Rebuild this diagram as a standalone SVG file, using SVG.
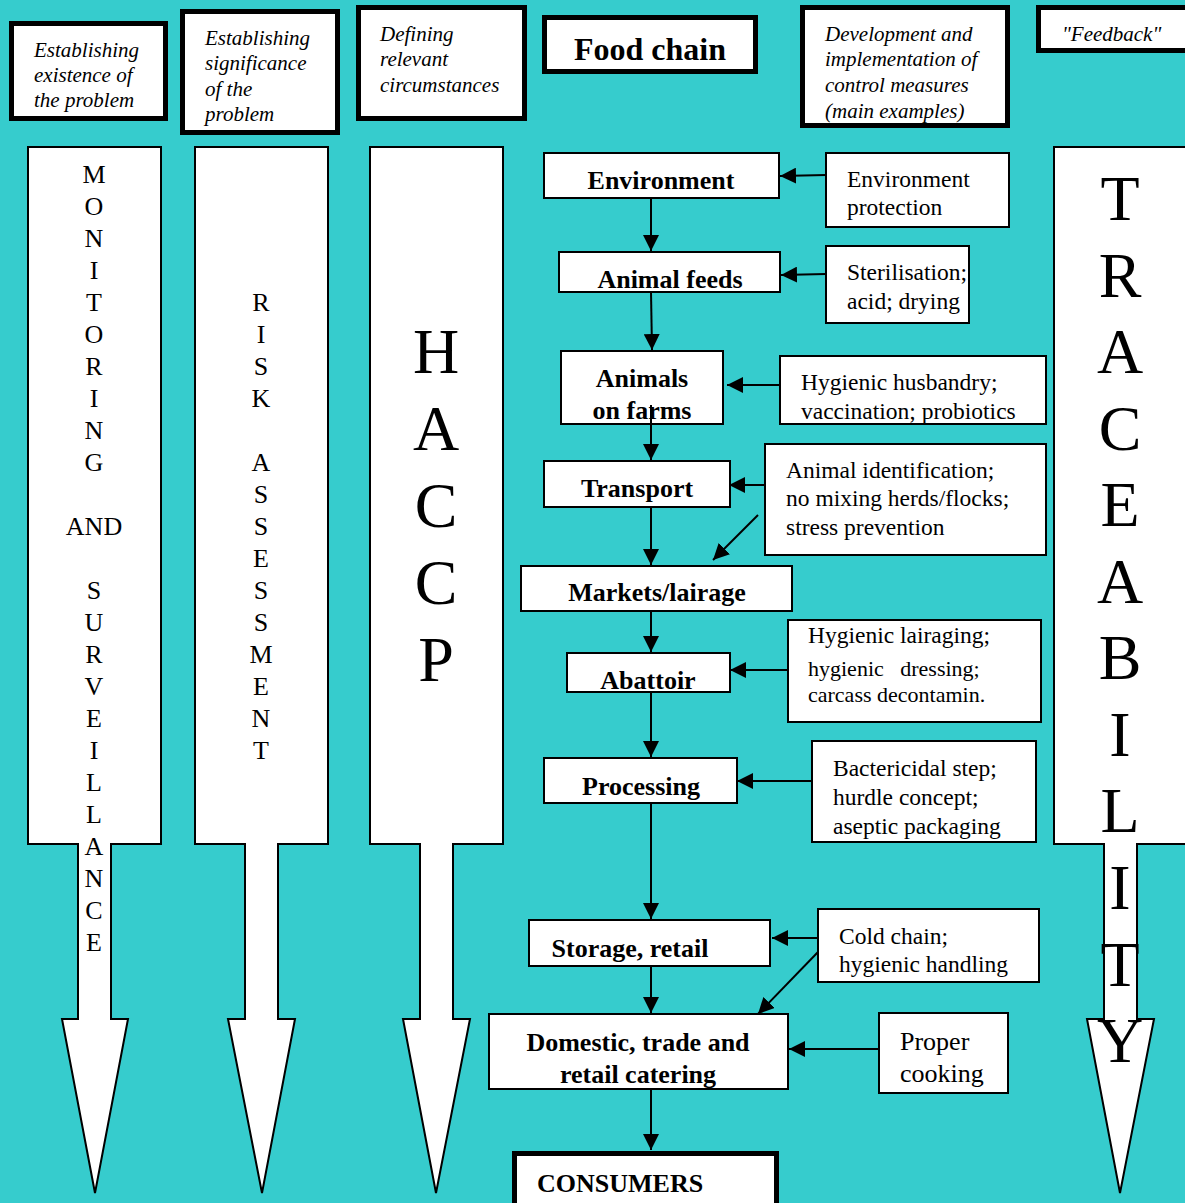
<svg xmlns="http://www.w3.org/2000/svg" width="1185" height="1203" viewBox="0 0 1185 1203">
<defs>
<marker id="ah" markerUnits="userSpaceOnUse" markerWidth="18" markerHeight="16" refX="16" refY="8" orient="auto">
<path d="M0,0 L16,8 L0,16 z" fill="#000"/>
</marker>
<style>
.hdr{fill:#fff;stroke:#000;stroke-width:5}
.box{fill:#fff;stroke:#000;stroke-width:2}
.big{fill:#fff;stroke:#000;stroke-width:2}
.it{font-family:"Liberation Serif",serif;font-style:italic;font-size:21px;fill:#000}
.nd{font-family:"Liberation Serif",serif;font-weight:bold;font-size:26px;fill:#000;text-anchor:middle}
.ct{font-family:"Liberation Serif",serif;font-size:23.5px;fill:#000}
.cs{font-family:"Liberation Serif",serif;font-size:22px;fill:#000}
.ck{font-family:"Liberation Serif",serif;font-size:26px;fill:#000}
.vt{font-family:"Liberation Serif",serif;font-size:26px;fill:#000;text-anchor:middle}
.vb{font-family:"Liberation Serif",serif;font-size:64px;fill:#000;text-anchor:middle}
.cn line{stroke:#000;stroke-width:2;marker-end:url(#ah)}
</style>
</defs>
<rect width="1185" height="1203" fill="#36CCCD"/>

<g id="hdr-existence">
<rect class="hdr" x="11.5" y="23.5" width="154" height="95"/>
<text class="it" x="34" y="57">Establishing</text>
<text class="it" x="34" y="82">existence of</text>
<text class="it" x="34" y="107">the problem</text>
</g>
<g id="hdr-significance">
<rect class="hdr" x="182.5" y="11.5" width="155" height="121"/>
<text class="it" x="205" y="45">Establishing</text>
<text class="it" x="205" y="70">significance</text>
<text class="it" x="205" y="96">of the</text>
<text class="it" x="205" y="121">problem</text>
</g>
<g id="hdr-circumstances">
<rect class="hdr" x="358.5" y="7.5" width="166" height="111"/>
<text class="it" x="380" y="41">Defining</text>
<text class="it" x="380" y="66">relevant</text>
<text class="it" x="380" y="92">circumstances</text>
</g>
<g id="hdr-foodchain">
<rect class="hdr" x="544.5" y="17.5" width="211" height="54"/>
<text x="650" y="60" font-family="'Liberation Serif',serif" font-weight="bold" font-size="32" text-anchor="middle">Food chain</text>
</g>
<g id="hdr-control">
<rect class="hdr" x="802.5" y="7.5" width="205" height="118"/>
<text class="it" x="825" y="41">Development and</text>
<text class="it" x="825" y="66">implementation of</text>
<text class="it" x="825" y="92">control measures</text>
<text class="it" x="825" y="118">(main examples)</text>
</g>
<g id="hdr-feedback">
<rect class="hdr" x="1038.5" y="7.5" width="160" height="43"/>
<text class="it" x="1062" y="41">"Feedback"</text>
</g>

<g id="arrow-monitoring">
<polygon class="big" points="28,147 161,147 161,844 111,844 111,1019 128,1019 95,1193 62,1019 78,1019 78,844 28,844"/>
<text class="vt"><tspan x="94" y="183">M</tspan><tspan x="94" y="215">O</tspan><tspan x="94" y="247">N</tspan><tspan x="94" y="279">I</tspan><tspan x="94" y="311">T</tspan><tspan x="94" y="343">O</tspan><tspan x="94" y="375">R</tspan><tspan x="94" y="407">I</tspan><tspan x="94" y="439">N</tspan><tspan x="94" y="471">G</tspan><tspan x="94" y="535">AND</tspan><tspan x="94" y="599">S</tspan><tspan x="94" y="631">U</tspan><tspan x="94" y="663">R</tspan><tspan x="94" y="695">V</tspan><tspan x="94" y="727">E</tspan><tspan x="94" y="759">I</tspan><tspan x="94" y="791">L</tspan><tspan x="94" y="823">L</tspan><tspan x="94" y="855">A</tspan><tspan x="94" y="887">N</tspan><tspan x="94" y="919">C</tspan><tspan x="94" y="951">E</tspan></text>
</g>
<g id="arrow-risk">
<polygon class="big" points="195,147 328,147 328,844 278,844 278,1019 295,1019 262,1193 228,1019 245,1019 245,844 195,844"/>
<text class="vt"><tspan x="261" y="311">R</tspan><tspan x="261" y="343">I</tspan><tspan x="261" y="375">S</tspan><tspan x="261" y="407">K</tspan><tspan x="261" y="471">A</tspan><tspan x="261" y="503">S</tspan><tspan x="261" y="535">S</tspan><tspan x="261" y="567">E</tspan><tspan x="261" y="599">S</tspan><tspan x="261" y="631">S</tspan><tspan x="261" y="663">M</tspan><tspan x="261" y="695">E</tspan><tspan x="261" y="727">N</tspan><tspan x="261" y="759">T</tspan></text>
</g>
<g id="arrow-haccp">
<polygon class="big" points="370,147 503,147 503,844 453,844 453,1019 470,1019 436,1193 403,1019 420,1019 420,844 370,844"/>
<text class="vb"><tspan x="436" y="373">H</tspan><tspan x="436" y="450">A</tspan><tspan x="436" y="527">C</tspan><tspan x="436" y="604">C</tspan><tspan x="436" y="681">P</tspan></text>
</g>
<g id="arrow-traceability">
<polygon class="big" points="1054,147 1192,147 1192,844 1137,844 1137,1019 1154,1019 1120,1193 1087,1019 1104,1019 1104,844 1054,844"/>
<line x1="1104" y1="945" x2="1137" y2="945" stroke="#000" stroke-width="2"/>
<text class="vb"><tspan x="1120" y="220">T</tspan><tspan x="1120" y="297">R</tspan><tspan x="1120" y="373">A</tspan><tspan x="1120" y="450">C</tspan><tspan x="1120" y="526">E</tspan><tspan x="1120" y="603">A</tspan><tspan x="1120" y="679">B</tspan><tspan x="1120" y="756">I</tspan><tspan x="1120" y="832">L</tspan><tspan x="1120" y="909">I</tspan><tspan x="1120" y="986">T</tspan><tspan x="1120" y="1062">Y</tspan></text>
</g>

<g id="connectors" class="cn">
<line x1="651" y1="198" x2="651" y2="251"/>
<line x1="651" y1="292" x2="652" y2="350"/>
<line x1="651" y1="424" x2="651" y2="460"/>
<line x1="651" y1="507" x2="651" y2="565"/>
<line x1="651" y1="611" x2="651" y2="652"/>
<line x1="651" y1="692" x2="651" y2="757"/>
<line x1="651" y1="803" x2="651" y2="919"/>
<line x1="651" y1="966" x2="651" y2="1013"/>
<line x1="651" y1="1089" x2="651" y2="1150"/>
<line x1="826" y1="175" x2="780" y2="176"/>
<line x1="826" y1="274" x2="781" y2="275"/>
<line x1="780" y1="385" x2="727" y2="385"/>
<line x1="765" y1="485" x2="729" y2="485"/>
<line x1="758" y1="515" x2="713" y2="560"/>
<line x1="788" y1="670" x2="730" y2="670"/>
<line x1="812" y1="781" x2="737" y2="781"/>
<line x1="818" y1="938" x2="772" y2="938"/>
<line x1="818" y1="952" x2="758" y2="1014"/>
<line x1="879" y1="1049" x2="789" y2="1049"/>
</g>

<g id="n-environment">
<rect class="box" x="544" y="153" width="235" height="45"/>
<text class="nd" x="661" y="189">Environment</text>
</g>
<g id="n-feeds">
<rect class="box" x="559" y="252" width="221" height="40"/>
<text class="nd" x="670" y="288">Animal feeds</text>
</g>
<g id="n-farms">
<rect class="box" x="561" y="351" width="162" height="73"/>
<text class="nd" x="642" y="387">Animals</text>
<text class="nd" x="642" y="419">on farms</text>
</g>
<line x1="651" y1="405" x2="651" y2="424" stroke="#000" stroke-width="2"/>
<g id="n-transport">
<rect class="box" x="544" y="461" width="186" height="46"/>
<text class="nd" x="637" y="497">Transport</text>
</g>
<g id="n-markets">
<rect class="box" x="521" y="566" width="271" height="45"/>
<text class="nd" x="657" y="601">Markets/lairage</text>
</g>
<g id="n-abattoir">
<rect class="box" x="567" y="653" width="163" height="39"/>
<text class="nd" x="648" y="689">Abattoir</text>
</g>
<g id="n-processing">
<rect class="box" x="544" y="758" width="193" height="45"/>
<text class="nd" x="641" y="795">Processing</text>
</g>
<g id="n-storage">
<rect class="box" x="529" y="920" width="241" height="46"/>
<text class="nd" x="630" y="957">Storage, retail</text>
</g>
<g id="n-domestic">
<rect class="box" x="489" y="1014" width="299" height="75"/>
<text class="nd" x="638" y="1051">Domestic, trade and</text>
<text class="nd" x="638" y="1083">retail catering</text>
</g>
<g id="n-consumers">
<rect class="hdr" x="514.5" y="1153.5" width="262" height="55"/>
<text x="537" y="1192" font-family="'Liberation Serif',serif" font-weight="bold" font-size="26">CONSUMERS</text>
</g>

<g id="c-envprot">
<rect class="box" x="826" y="153" width="183" height="74"/>
<text class="ct" x="847" y="187">Environment</text>
<text class="ct" x="847" y="215">protection</text>
</g>
<g id="c-steril">
<rect class="box" x="826" y="246" width="143" height="77"/>
<text class="ct" x="847" y="280">Sterilisation;</text>
<text class="ct" x="847" y="309">acid; drying</text>
</g>
<g id="c-husbandry">
<rect class="box" x="780" y="356" width="266" height="68"/>
<text class="ct" x="801" y="390">Hygienic husbandry;</text>
<text class="ct" x="801" y="419">vaccination; probiotics</text>
</g>
<g id="c-identification">
<rect class="box" x="765" y="444" width="281" height="111"/>
<text class="ct" x="786" y="478">Animal identification;</text>
<text class="ct" x="786" y="506">no mixing herds/flocks;</text>
<text class="ct" x="786" y="535">stress prevention</text>
</g>
<g id="c-lairaging">
<rect class="box" x="788" y="620" width="253" height="102"/>
<text class="ct" x="808" y="643">Hygienic lairaging;</text>
<text class="cs" x="808" y="676" xml:space="preserve">hygienic   dressing;</text>
<text class="cs" x="808" y="702">carcass decontamin.</text>
</g>
<g id="c-bactericidal">
<rect class="box" x="812" y="741" width="224" height="101"/>
<text class="ct" x="833" y="776">Bactericidal step;</text>
<text class="ct" x="833" y="805">hurdle concept;</text>
<text class="ct" x="833" y="834">aseptic packaging</text>
</g>
<g id="c-coldchain">
<rect class="box" x="818" y="909" width="221" height="73"/>
<text class="ct" x="839" y="944">Cold chain;</text>
<text class="ct" x="839" y="972">hygienic handling</text>
</g>
<g id="c-cooking">
<rect class="box" x="879" y="1013" width="129" height="80"/>
<text class="ck" x="900" y="1050">Proper</text>
<text class="ck" x="900" y="1082">cooking</text>
</g>
</svg>
